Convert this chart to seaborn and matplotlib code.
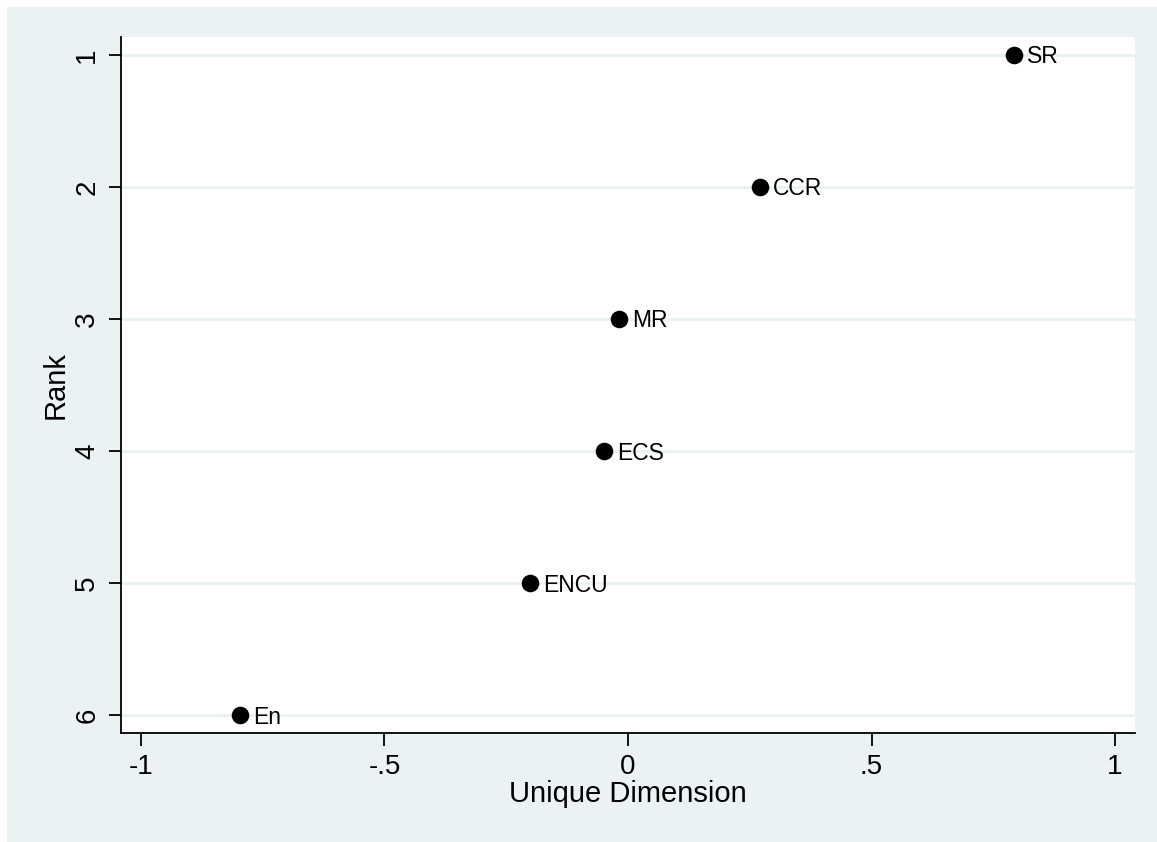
import matplotlib
matplotlib.use("Agg")
import matplotlib.pyplot as plt
import seaborn as sns
import pandas as pd
from matplotlib.patches import Rectangle

labels = ["SR", "CCR", "MR", "ECS", "ENCU", "En"]
unique_dim = [0.793, 0.271, -0.018, -0.049, -0.201, -0.797]
rank = [1, 2, 3, 4, 5, 6]
x_ticks = [-1, -0.5, 0, 0.5, 1]
x_ticklabels = ["-1", "-.5", "0", ".5", "1"]
y_ticks = [1, 2, 3, 4, 5, 6]

df = pd.DataFrame({"label": labels, "x": unique_dim, "rank": rank})

sns.set_style("white")
plt.rcParams["font.family"] = ["Liberation Sans", "DejaVu Sans"]
plt.rcParams["text.color"] = "black"
plt.rcParams["axes.labelcolor"] = "black"

bg = "#EAF2F3"
fig = plt.figure(figsize=(11.57, 8.42), dpi=100, facecolor=bg)
fig.patches.append(Rectangle((0, 1 - 7/842), 1, 7/842, transform=fig.transFigure,
                             facecolor="white", edgecolor="none", zorder=-1))
fig.patches.append(Rectangle((0, 0), 7/1157, 1, transform=fig.transFigure,
                             facecolor="white", edgecolor="none", zorder=-1))

ax = fig.add_axes([121/1157, (842-733)/842, (1135-121)/1157, (733-37)/842])
ax.set_facecolor("white")

for yt in y_ticks:
    ax.axhline(yt, color=bg, lw=2.2, zorder=0)

sns.scatterplot(data=df, x="x", y="rank", ax=ax, color="black", s=160,
                edgecolor="black", linewidth=0, zorder=3, legend=False)

for _, r in df.iterrows():
    ax.annotate(r["label"], (r["x"], r["rank"]), xytext=(13, -2),
                textcoords="offset pixels",
                va="center", ha="left", fontsize=16.5, color="black", zorder=4)

ax.set_xlim(-1.041, 1.041)
ax.set_ylim(6.136, 0.864)
ax.set_xticks(x_ticks)
ax.set_xticklabels(x_ticklabels)
ax.set_yticks(y_ticks)
ax.set_yticklabels([str(v) for v in y_ticks], rotation=90, va="center")

for side in ["top", "right"]:
    ax.spines[side].set_visible(False)
for side in ["left", "bottom"]:
    ax.spines[side].set_visible(True)
    ax.spines[side].set_color("black")
    ax.spines[side].set_linewidth(1.3)

ax.tick_params(axis="both", direction="out", length=9, width=1.3, colors="black",
               labelcolor="black", labelsize=20, pad=6, bottom=True, left=True)
ax.set_xlabel("Unique Dimension", fontsize=21, labelpad=0, color="black")
ax.set_ylabel("Rank", fontsize=21, labelpad=3, color="black")

fig.savefig("out.png", dpi=100, facecolor=bg)
